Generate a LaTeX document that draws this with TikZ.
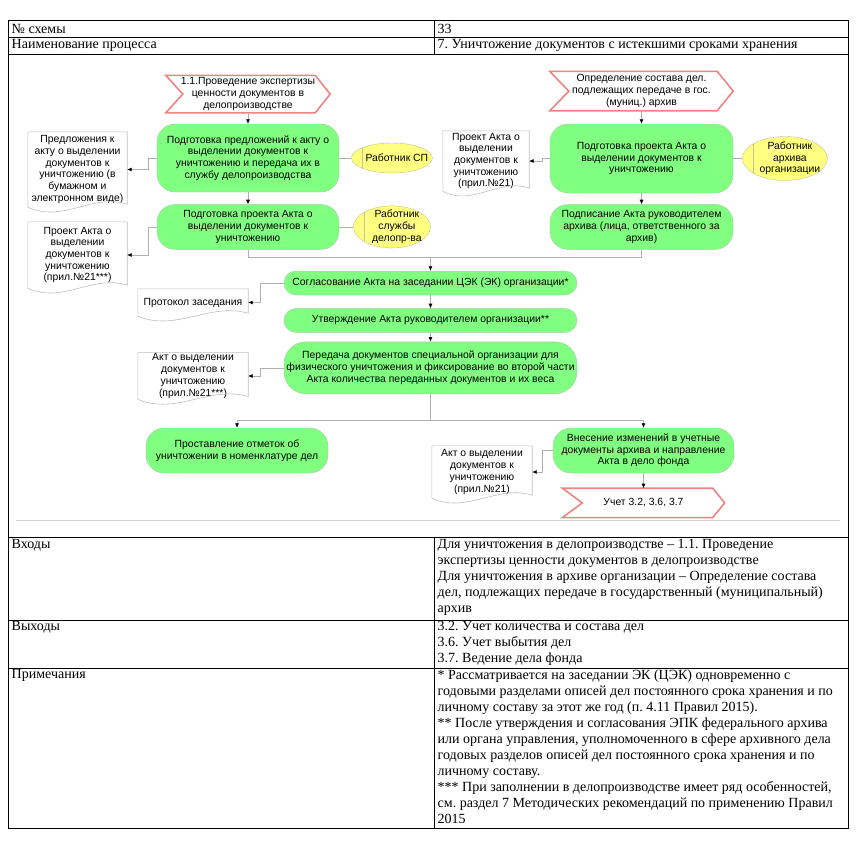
\documentclass[tikz,border=0pt]{standalone}
\usepackage{fontspec}
\setmainfont{Liberation Serif}
\newfontfamily\diagfont{Liberation Sans}
\usetikzlibrary{shapes.geometric,arrows.meta,positioning,calc}

\definecolor{procgreen}{RGB}{128,255,128}
\definecolor{procedge}{RGB}{165,205,165}
\definecolor{rolefill}{RGB}{255,255,128}
\definecolor{roleedge}{RGB}{195,195,150}
\definecolor{docedge}{RGB}{190,190,190}
\definecolor{linkgray}{RGB}{175,175,175}
\definecolor{inred}{RGB}{240,130,130}

\newcommand\dfont{\diagfont\fontsize{10.4}{11.7}\selectfont}
\newcommand\tfont{\fontsize{14}{16}\selectfont}
\frenchspacing

\begin{document}
\begin{tikzpicture}[x=1pt, y=-1pt,
  proc/.style={draw=procedge, fill=procgreen, rounded corners=18pt, align=center, font=\dfont, inner sep=1pt, minimum width=182pt},
  wide/.style={minimum width=293pt, rounded corners=12pt},
  role/.style={ellipse, draw=roleedge, fill=rolefill, inner sep=0pt,
    path picture={\draw[roleedge] ([xshift=11pt]path picture bounding box.north west) -- ([xshift=11pt]path picture bounding box.south west);}},
  rolelabel/.style={font=\dfont, align=center, xshift=5pt},
  docbox/.style={align=center, font=\dfont, inner sep=1pt},
  docline/.style={draw=docedge, line width=0.6pt},
  sigbox/.style={align=center, font=\dfont, inner sep=0pt},
  sigline/.style={draw=inred, line width=1.6pt, line join=miter},
  link/.style={draw=linkgray, line width=0.6pt},
  arr/.style={link, -{Latex[length=4.5pt, width=4pt, color=black]}},
  cell/.style={font=\tfont, align=left, inner sep=0.5pt}
]
  \useasboundingbox (0,0) rectangle (860,849);

  % table
  \draw[line width=0.8pt] (8,20) rectangle (848,828);
  \foreach \y in {37,54,537,620,668}
    \draw[line width=0.8pt] (8,\y) -- (848,\y);
  \draw[line width=0.8pt] (434,20) -- (434,54);
  \draw[line width=0.8pt] (434,537) -- (434,828);
  \draw[gray!35, line width=0.8pt] (16,520) -- (840,520);

  \node[cell, anchor=west] (t11) at (11,28.5) {№ схемы};
  \node[cell, anchor=west] (t12) at (437,28.5) {33};
  \node[cell, anchor=west] (t21) at (11,45.5) {Наименование процесса};
  \node[cell, anchor=west] (t22) at (437,45.5) {7. Уничтожение документов с истекшими сроками хранения};
  \node[cell, anchor=north west] (t31) at (11,538.5) {Входы};
  \node[cell, anchor=north west] (t32) at (437,538.5) {Для уничтожения в делопроизводстве -- 1.1. Проведение\\
    экспертизы ценности документов в делопроизводстве\\
    Для уничтожения в архиве организации -- Определение состава\\
    дел, подлежащих передаче в государственный (муниципальный)\\
    архив};
  \node[cell, anchor=north west] (t41) at (11,621) {Выходы};
  \node[cell, anchor=north west] (t42) at (437,621) {3.2. Учет количества и состава дел\\
    3.6. Учет выбытия дел\\
    3.7. Ведение дела фонда};
  \node[cell, anchor=north west] (t51) at (11,669) {Примечания};
  \node[cell, anchor=north west] (t52) at (437,669) {* Рассматривается на заседании ЭК (ЦЭК) одновременно с\\
    годовыми разделами описей дел постоянного срока хранения и по\\
    личному составу за этот же год (п. 4.11 Правил 2015).\\
    ** После утверждения и согласования ЭПК федерального архива\\
    или органа управления, уполномоченного в сфере архивного дела\\
    годовых разделов описей дел постоянного срока хранения и по\\
    личному составу.\\
    *** При заполнении в делопроизводстве имеет ряд особенностей,\\
    см. раздел 7 Методических рекомендаций по применению Правил\\
    2015};

  % left branch
  \node[proc, minimum height=68pt] (p1) at (248,158) {Подготовка предложений к акту о\\выделении документов к\\уничтожению и передача их в\\службу делопроизводства};
  \node[sigbox, minimum width=164pt, minimum height=37pt, above=11pt of p1] (in1) {1.1.Проведение экспертизы\\ценности документов в\\делопроизводстве};
  \node[proc, minimum height=45pt, below=12pt of p1] (p2) {Подготовка проекта Акта о\\выделении документов к\\уничтожению};
  \node[role, minimum width=81pt, minimum height=30pt, right=12pt of p1,
    label={[rolelabel]center:Работник СП}] (r1) {};
  \node[role, minimum width=77pt, minimum height=42pt, right=14pt of p2,
    label={[rolelabel]center:Работник\\службы\\делопр-ва}] (r2) {};
  \node[docbox, minimum width=99pt, minimum height=75pt] (d1) at (77.5,169.5) {Предложения к\\акту о выделении\\документов к\\уничтожению (в\\бумажном и\\электронном виде)};
  \node[docbox, minimum width=99pt, minimum height=66pt] (d2) at (77.5,255) {Проект Акта о\\выделении\\документов к\\уничтожению\\(прил.№21***)};

  % right branch
  \node[proc, minimum width=183pt, minimum height=69pt] (p3) at (641.5,158.5) {Подготовка проекта Акта о\\выделении документов к\\уничтожению};
  \node[sigbox, minimum width=183pt, minimum height=39pt, above=13pt of p3] (in2) {Определение состава дел.\\подлежащих передаче в гос.\\(муниц.) архив};
  \node[proc, minimum width=183pt, minimum height=45pt, below=11pt of p3] (p4) {Подписание Акта руководителем\\архива (лица, ответственного за\\архив)};
  \node[role, minimum width=85pt, minimum height=44pt, right=9pt of p3,
    label={[rolelabel]center:Работник\\архива\\организации}] (r3) {};
  \node[docbox, minimum width=86pt, minimum height=60pt] (d3) at (486,161) {Проект Акта о\\выделении\\документов к\\уничтожению\\(прил.№21)};

  % common part
  \node[proc, wide, minimum height=24pt] (p5) at (430.5,283) {Согласование Акта на заседании ЦЭК (ЭК) организации*};
  \node[proc, wide, minimum height=24pt, below=13pt of p5] (p6) {Утверждение Акта руководителем организации**};
  \node[proc, wide, minimum height=52pt, rounded corners=22pt, below=9pt of p6] (p7) {Передача документов специальной организации для\\физического уничтожения и фиксирование во второй части\\Акта количества переданных документов и их веса};
  \node[docbox, minimum width=110pt, minimum height=27pt] (d4) at (193,302.5) {Протокол заседания};
  \node[docbox, minimum width=110pt, minimum height=44pt] (d5) at (193,376) {Акт о выделении\\документов к\\уничтожению\\(прил.№21***)};
  \node[proc, minimum height=45pt] (p8) at (237,450.5) {Проставление отметок об\\уничтожении в номенклатуре дел};
  \node[proc, minimum width=181pt, minimum height=45pt] (p9) at (643.5,450.5) {Внесение изменений в учетные\\документы архива и направление\\Акта в дело фонда};
  \node[docbox, minimum width=100pt, minimum height=52pt] (d6) at (482,472) {Акт о выделении\\документов к\\уничтожению\\(прил.№21)};
  \node[sigbox, minimum width=162pt, minimum height=29pt, below=15pt of p9] (out1) {Учет 3.2, 3.6, 3.7};

  % outlines
  \foreach \s/\a/\b in {in1/17/15, in2/19/16, out1/20/12}
    \draw[sigline] (\s.north west) -- ([xshift=-\b pt]\s.north east) -- (\s.east)
      -- ([xshift=-\b pt]\s.south east) -- (\s.south west) -- ([xshift=\a pt]\s.west) -- cycle;
  \foreach \d in {d1,d2,d3,d4,d5,d6}
    \draw[docline] (\d.south west) -- (\d.north west) -- (\d.north east) -- ([yshift=3pt]\d.south east)
      .. controls ($(\d.south west)!0.65!(\d.south east)+(0pt,14pt)$)
      and ($(\d.south west)!0.35!(\d.south east)+(0pt,-16pt)$) .. (\d.south west);

  \coordinate (j1) at (430.5,257);
  \coordinate (j2) at (430.5,420);

  % connectors
  \draw[arr] (in1) -- (p1);
  \draw[arr] (p1) -- (p2);
  \draw[link] (p1) -- (r1);
  \draw[link] (p2) -- (r2);
  \draw[arr] (p1.west) -- ++(-9,0) |- (d1.east);
  \draw[arr] (p2.west) -- ++(-9,0) |- (d2.east);
  \draw[arr] (in2) -- (p3);
  \draw[arr] (p3) -- (p4);
  \draw[link] (p3) -- (r3);
  \draw[arr] (p3.west) -- ++(-8,0) |- (d3.east);
  \draw[arr] (p2.south) |- (j1) -- (p5.north);
  \draw[link] (p4.south) |- (j1);
  \draw[arr] (p5) -- (p6);
  \draw[arr] (p6) -- (p7);
  \draw[arr] (p5.west) -- ++(-24,0) |- (d4.east);
  \draw[arr] (p7.west) -- ++(-24,0) |- (d5.east);
  \draw[arr] (p7.south) -- (j2) -| (p8.north);
  \draw[arr] (j2) -| (p9.north);
  \draw[arr] (p9.west) -- ++(-11,0) |- (d6.east);
  \draw[arr] (p9) -- (out1);
\end{tikzpicture}
\end{document}
